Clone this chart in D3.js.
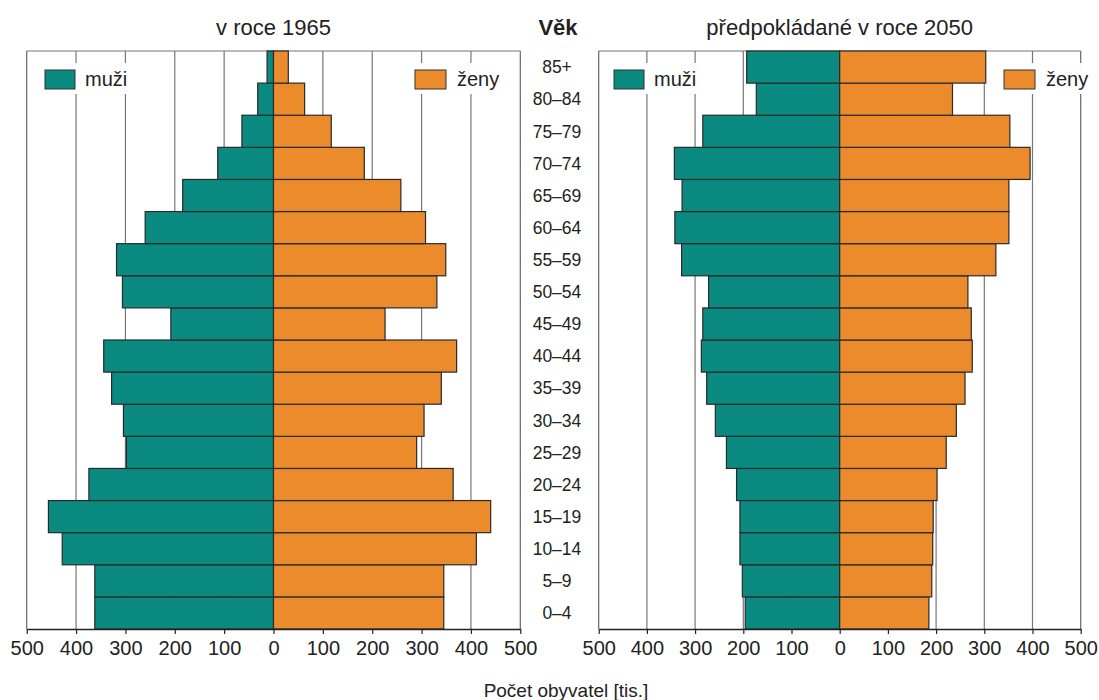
<!DOCTYPE html>
<html><head><meta charset="utf-8">
<script src="https://cdn.jsdelivr.net/npm/d3@7"></script>
<style>body{margin:0;background:#fff}svg{display:block;font-family:"Liberation Sans",Arial,sans-serif}</style>
</head><body><svg id="c" width="1099" height="700"></svg>
<script>
const ages = ["0–4","5–9","10–14","15–19","20–24","25–29","30–34","35–39","40–44","45–49","50–54","55–59","60–64","65–69","70–74","75–79","80–84","85+"];
const men1965   = [362,362,428,456,374,298,304,328,344,208,306,318,260,184,113,64,32,13];
const women1965 = [345,345,411,440,364,290,305,340,371,226,331,349,308,258,184,117,63,30];
const men2050   = [196,202,207,207,214,235,258,276,287,284,272,328,342,327,343,284,173,193];
const women2050 = [185,191,193,194,202,221,242,260,275,273,266,324,351,351,395,353,234,303];
const tickVals = [-500,-400,-300,-200,-100,0,100,200,300,400,500];
const titles = ["v roce 1965","předpokládané v roce 2050"];
const legendLabels = ["muži","ženy"];
const colMen = "#0a8a80", colWomen = "#eb8b2c";

const svg = d3.select("#c");
const plotTop = 51, plotBottom = 629;
const y = d3.scaleBand().domain(ages.slice().reverse()).range([plotTop, plotBottom]).padding(0);

const panels = [
  {x0:26.7, x1:520.3, men:men1965, women:women1965, title:titles[0],
   lg:{mBg:[36,140], mBox:45, wBg:[405,514], wBox:415}},
  {x0:598.7, x1:1080.7, men:men2050, women:women2050, title:titles[1],
   lg:{mBg:[605,716], mBox:614, wBg:[994,1099], wBox:1004}}
];

panels.forEach(p => {
  const x = d3.scaleLinear().domain([-500,500]).range([p.x0, p.x1]);
  const g = svg.append("g");
  g.selectAll("line.grid").data(tickVals).join("line")
    .attr("x1", d=>x(d)).attr("x2", d=>x(d)).attr("y1", plotTop).attr("y2", plotBottom)
    .attr("stroke", d => (d===-500||d===500) ? "#666" : "#777").attr("stroke-width", 1.2);
  g.append("line").attr("x1", p.x0).attr("x2", p.x1).attr("y1", plotTop).attr("y2", plotTop)
    .attr("stroke","#777").attr("stroke-width",1.2);
  g.append("rect").attr("x", p.lg.mBg[0]).attr("y", 63).attr("width", p.lg.mBg[1]-p.lg.mBg[0]).attr("height", 31).attr("fill","#fff");
  g.append("rect").attr("x", p.lg.wBg[0]).attr("y", 63).attr("width", p.lg.wBg[1]-p.lg.wBg[0]).attr("height", 31).attr("fill","#fff");
  g.append("rect").attr("x", p.lg.mBox).attr("y", 70).attr("width", 30).attr("height", 19)
    .attr("fill", colMen).attr("stroke","#333").attr("stroke-width",1);
  g.append("text").attr("x", p.lg.mBox+40).attr("y", 86).attr("font-size", 20).attr("fill","#222").text(legendLabels[0]);
  g.append("rect").attr("x", p.lg.wBox).attr("y", 70).attr("width", 31).attr("height", 19)
    .attr("fill", colWomen).attr("stroke","#333").attr("stroke-width",1);
  g.append("text").attr("x", p.lg.wBox+42).attr("y", 86).attr("font-size", 20).attr("fill","#222").text(legendLabels[1]);
  g.selectAll("rect.m").data(p.men).join("rect").attr("class","m")
    .attr("x", d=>x(-d)).attr("width", d=>x(0)-x(-d))
    .attr("y", (d,i)=>y(ages[i])).attr("height", y.bandwidth())
    .attr("fill", colMen).attr("stroke","#2a2a2a").attr("stroke-width",1.2);
  g.selectAll("rect.w").data(p.women).join("rect").attr("class","w")
    .attr("x", x(0)).attr("width", d=>x(d)-x(0))
    .attr("y", (d,i)=>y(ages[i])).attr("height", y.bandwidth())
    .attr("fill", colWomen).attr("stroke","#2a2a2a").attr("stroke-width",1.2);
  const ax = g.append("g").attr("transform", `translate(0,${plotBottom})`)
    .call(d3.axisBottom(x).tickValues(tickVals).tickSize(5).tickSizeOuter(0).tickPadding(7).tickFormat(d=>Math.abs(d)));
  ax.select(".domain").attr("stroke","#222").attr("stroke-width",1.4);
  ax.selectAll(".tick line").attr("stroke","#222").attr("stroke-width",1.2);
  ax.selectAll(".tick text").attr("font-size", 20).attr("fill","#222").attr("font-family","Liberation Sans, Arial, sans-serif");
  svg.append("text").attr("x", x(0)).attr("y", 35).attr("text-anchor","middle")
    .attr("font-size", 22).attr("fill","#222").text(p.title);
});

svg.append("text").attr("x", 558).attr("y", 35).attr("text-anchor","middle")
  .attr("font-size", 22).attr("font-weight","bold").attr("fill","#222").text("Věk");
svg.selectAll("text.age").data(ages).join("text").attr("class","age")
  .attr("x", 557).attr("y", d=>y(d)+y.bandwidth()/2).attr("dy","0.36em")
  .attr("text-anchor","middle").attr("font-size", 17.5).attr("fill","#222").text(d=>d);

svg.append("text").attr("x", 566).attr("y", 697).attr("text-anchor","middle")
  .attr("font-size", 19).attr("fill","#222").text("Počet obyvatel [tis.]");
</script></body></html>
